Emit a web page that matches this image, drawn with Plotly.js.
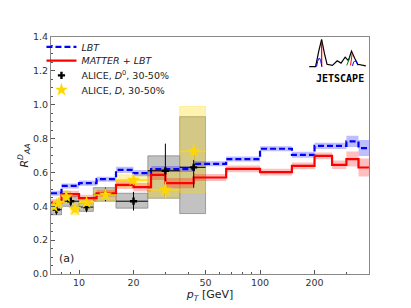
<!DOCTYPE html>
<html>
<head>
<meta charset="utf-8">
<script src="https://cdn.plot.ly/plotly-3.0.1.min.js"></script>
<style>html,body{margin:0;padding:0;background:#fff;}#plot{width:411px;height:308px;}</style>
</head>
<body>
<div id="plot"></div>
<script>
// Theory bin edges (GeV) and values
const theoryEdges = [7, 8, 10, 12.5, 16, 20, 25, 30, 43, 65, 100, 150, 200, 250, 300, 350, 400];
const lbtVal = [0.477, 0.520, 0.537, 0.560, 0.615, 0.596, 0.620, 0.620, 0.651, 0.679, 0.740, 0.704, 0.757, 0.757, 0.783, 0.744];
const lbtErr = [0.015, 0.015, 0.015, 0.015, 0.018, 0.018, 0.018, 0.018, 0.015, 0.015, 0.015, 0.018, 0.018, 0.018, 0.033, 0.047];
const matVal = [0.422, 0.472, 0.448, 0.477, 0.527, 0.513, 0.586, 0.537, 0.570, 0.621, 0.602, 0.639, 0.698, 0.645, 0.679, 0.629];
const matErr = [0.02, 0.02, 0.02, 0.02, 0.025, 0.025, 0.03, 0.03, 0.02, 0.02, 0.02, 0.02, 0.02, 0.025, 0.044, 0.053];

// ALICE D0, 30-50%
const d0Lo = [7, 8, 10, 12, 16, 24, 36];
const d0Hi = [8, 10, 12, 16, 24, 36, 50];
const d0Val = [0.38, 0.43, 0.395, 0.47, 0.43, 0.61, 0.63];
const d0Stat = [0.03, 0.03, 0.03, 0.04, 0.055, 0.16, 0.12];
const d0SysLo = [0.35, 0.40, 0.37, 0.43, 0.389, 0.448, 0.357];
const d0SysHi = [0.41, 0.46, 0.42, 0.51, 0.477, 0.698, 0.929];

// ALICE D, 30-50%
const dLo = [7, 7.5, 8, 9, 10, 12, 16, 24, 36];
const dHi = [7.5, 8, 9, 10, 12, 16, 24, 36, 50];
const dVal = [0.40, 0.42, 0.457, 0.383, 0.422, 0.467, 0.556, 0.497, 0.724];
const dStat = [0.02, 0.02, 0.02, 0.02, 0.02, 0.03, 0.03, 0.05, 0.05];
const dSysLo = [0.37, 0.39, 0.42, 0.35, 0.39, 0.43, 0.517, 0.45, 0.48];
const dSysHi = [0.43, 0.45, 0.49, 0.42, 0.45, 0.50, 0.586, 0.627, 0.99];

function stepY(vals){ return vals.concat([vals[vals.length-1]]); }
function add(a,b,s){ return a.map((v,i)=>v + s*b[i]); }

const traces = [];
function band(vals, errs, color){
  traces.push({x: theoryEdges, y: stepY(add(vals,errs,1)), mode:'lines', line:{shape:'hv', width:0, color:color}, showlegend:false, hoverinfo:'skip'});
  traces.push({x: theoryEdges, y: stepY(add(vals,errs,-1)), mode:'lines', line:{shape:'hv', width:0, color:color}, fill:'tonexty', fillcolor:color, showlegend:false, hoverinfo:'skip'});
}
function boxes(lo, hi, ylo, yhi, fill, edge){
  for(let i=0;i<lo.length;i++){
    traces.push({x:[lo[i],hi[i],hi[i],lo[i],lo[i]], y:[ylo[i],ylo[i],yhi[i],yhi[i],ylo[i]], mode:'lines', fill:'toself', fillcolor:fill, line:{color:edge, width:1}, showlegend:false, hoverinfo:'skip'});
  }
}
boxes(d0Lo, d0Hi, d0SysLo, d0SysHi, 'rgba(120,120,120,0.45)', 'rgba(110,110,110,0.6)');
boxes(dLo, dHi, dSysLo, dSysHi, 'rgba(255,215,0,0.3)', 'rgba(255,215,0,0.3)');
band(lbtVal, lbtErr, 'rgba(0,0,255,0.25)');
band(matVal, matErr, 'rgba(255,0,0,0.25)');

traces.push({x: theoryEdges, y: stepY(lbtVal), mode:'lines', name:'<i>LBT</i>', legend:'legend', line:{shape:'hv', color:'#0000ff', width:2.2, dash:'6px,3px'}});
traces.push({x: theoryEdges, y: stepY(matVal), mode:'lines', name:'<i>MATTER + LBT</i>', legend:'legend2', line:{shape:'hv', color:'#ff0000', width:2.2}});

const d0x = d0Lo.map((v,i)=>(v+d0Hi[i])/2);
const dx = dLo.map((v,i)=>(v+dHi[i])/2);
traces.push({x:d0x, y:d0Val, mode:'markers', name:'ALICE, <i>D</i><sup>0</sup>, 30-50%', legend:'legend3',
  marker:{symbol:'cross', size:6, color:'black'},
  error_x:{type:'data', array:d0Hi.map((v,i)=>v-d0x[i]), arrayminus:d0x.map((v,i)=>v-d0Lo[i]), color:'black', thickness:1, width:0},
  error_y:{type:'data', array:d0Stat, color:'black', thickness:1, width:0}});
traces.push({x:dx, y:dVal, mode:'markers', name:'ALICE, <i>D</i>, 30-50%', legend:'legend4',
  marker:{symbol:'star', size:10, color:'#FFD700'},
  error_x:{type:'data', array:dHi.map((v,i)=>v-dx[i]), arrayminus:dx.map((v,i)=>v-dLo[i]), color:'#FFD700', thickness:1.5, width:0},
  error_y:{type:'data', array:dStat, color:'#FFD700', thickness:1.5, width:0}});

const axisCommon = {showline:true, mirror:true, linecolor:'#888', linewidth:1, ticks:'inside', tickcolor:'#555', ticklen:4, showgrid:false, zeroline:false, automargin:false, tickfont:{family:'DejaVu Sans', size:9.5, color:'#333'}};

function leg(y){ return {x:-0.03, y:y, xanchor:'left', yanchor:'middle', bgcolor:'rgba(255,255,255,0)', font:{size:9.5, family:'DejaVu Sans', color:'#222'}, itemwidth:30}; }

const layout = {
  width:411, height:308,
  margin:{l:51, r:42, t:37, b:34, autoexpand:false},
  paper_bgcolor:'white', plot_bgcolor:'white',
  font:{family:'DejaVu Sans', color:'#222'},
  xaxis: Object.assign({}, axisCommon, {type:'log', range:[Math.log10(7), Math.log10(400)], tickvals:[10,20,50,100,200], ticktext:['10','20','50','100','200'],
    minor:{ticks:'inside', ticklen:2, tickcolor:'#555', tickvals:[7,8,9,30,40,60,70,80,90,300,400]},
    title:{text:'<i>p</i><sub><i>T</i></sub> [GeV]', font:{size:11, family:'DejaVu Sans'}, standoff:2}}),
  yaxis: Object.assign({}, axisCommon, {range:[0,1.4], tickvals:[0,0.2,0.4,0.6,0.8,1.0,1.2,1.4], ticktext:['0.0','0.2','0.4','0.6','0.8','1.0','1.2','1.4'],
    minor:{ticks:'inside', ticklen:2, tickcolor:'#555', dtick:0.05},
    title:{text:'<i>R</i><sup><i>D</i></sup><sub><i>AA</i></sub>', font:{size:11, family:'DejaVu Sans'}, standoff:2}}),
  legend: leg(0.958), legend2: leg(0.900), legend3: leg(0.838), legend4: leg(0.777),
  annotations:[
    {xref:'paper', yref:'paper', x:0.02, y:0.03, xanchor:'left', yanchor:'bottom', text:'(a)', showarrow:false, font:{size:11, family:'DejaVu Sans'}},
    {xref:'paper', yref:'paper', x:0.992, y:0.855, xanchor:'right', yanchor:'top', text:'<b>JETSCAPE</b>', showarrow:false, font:{size:10, family:'DejaVu Sans Mono', color:'black'}}
  ],
  shapes:[
    {type:'path', xref:'paper', yref:'paper', path:'M 0.812 0.875 L 0.832 0.875 L 0.842 0.94 L 0.851 0.99 L 0.860 0.93 L 0.868 0.885 L 0.885 0.88 L 0.9 0.9 L 0.912 0.89 L 0.925 0.915 L 0.935 0.9 L 0.945 0.94 L 0.955 0.91 L 0.965 0.885 L 0.99 0.878', line:{color:'black', width:1.2}},
    {type:'line', xref:'paper', yref:'paper', x0:0.851, x1:0.851, y0:0.875, y1:0.975, line:{color:'red', width:1.3}},
    {type:'path', xref:'paper', yref:'paper', path:'M 0.835 0.875 Q 0.842 0.93 0.848 0.9 L 0.852 0.875', line:{color:'blue', width:1}},
    {type:'line', xref:'paper', yref:'paper', x0:0.942, x1:0.947, y0:0.88, y1:0.93, line:{color:'red', width:1}},
    {type:'line', xref:'paper', yref:'paper', x0:0.93, x1:0.94, y0:0.88, y1:0.915, line:{color:'green', width:1}},
    {type:'path', xref:'paper', yref:'paper', path:'M 0.948 0.878 Q 0.955 0.92 0.965 0.88', line:{color:'blue', width:1}}
  ]
};

Plotly.newPlot('plot', traces, layout, {displayModeBar:false, staticPlot:true});
</script>
</body>
</html>
